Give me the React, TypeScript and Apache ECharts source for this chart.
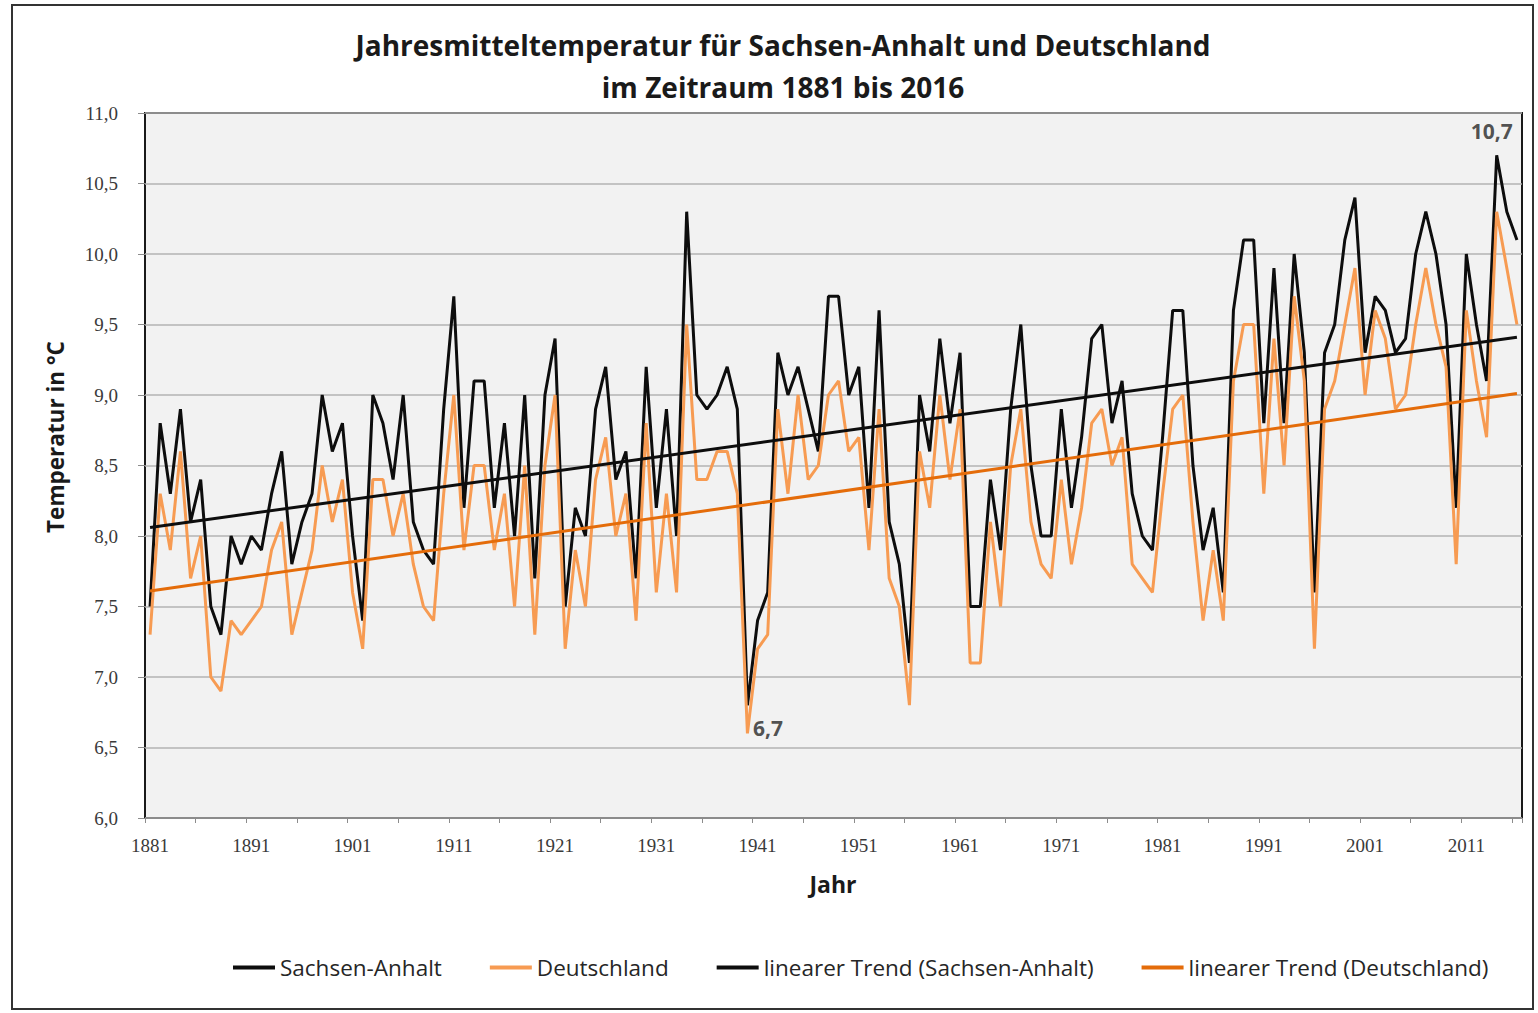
import React, { useEffect, useRef } from "react";
import * as echarts from "echarts";

const years = [
  "1881","1882","1883","1884","1885","1886","1887","1888","1889","1890",
  "1891","1892","1893","1894","1895","1896","1897","1898","1899","1900",
  "1901","1902","1903","1904","1905","1906","1907","1908","1909","1910",
  "1911","1912","1913","1914","1915","1916","1917","1918","1919","1920",
  "1921","1922","1923","1924","1925","1926","1927","1928","1929","1930",
  "1931","1932","1933","1934","1935","1936","1937","1938","1939","1940",
  "1941","1942","1943","1944","1945","1946","1947","1948","1949","1950",
  "1951","1952","1953","1954","1955","1956","1957","1958","1959","1960",
  "1961","1962","1963","1964","1965","1966","1967","1968","1969","1970",
  "1971","1972","1973","1974","1975","1976","1977","1978","1979","1980",
  "1981","1982","1983","1984","1985","1986","1987","1988","1989","1990",
  "1991","1992","1993","1994","1995","1996","1997","1998","1999","2000",
  "2001","2002","2003","2004","2005","2006","2007","2008","2009","2010",
  "2011","2012","2013","2014","2015","2016",
];

const sachsenAnhalt = [
  7.5, 8.8, 8.3, 8.9, 8.1, 8.4, 7.5, 7.3, 8.0, 7.8,
  8.0, 7.9, 8.3, 8.6, 7.8, 8.1, 8.3, 9.0, 8.6, 8.8,
  8.0, 7.4, 9.0, 8.8, 8.4, 9.0, 8.1, 7.9, 7.8, 8.9,
  9.7, 8.2, 9.1, 9.1, 8.2, 8.8, 8.0, 9.0, 7.7, 9.0,
  9.4, 7.5, 8.2, 8.0, 8.9, 9.2, 8.4, 8.6, 7.7, 9.2,
  8.2, 8.9, 8.0, 10.3, 9.0, 8.9, 9.0, 9.2, 8.9, 6.8,
  7.4, 7.6, 9.3, 9.0, 9.2, 8.9, 8.6, 9.7, 9.7, 9.0,
  9.2, 8.2, 9.6, 8.1, 7.8, 7.1, 9.0, 8.6, 9.4, 8.8,
  9.3, 7.5, 7.5, 8.4, 7.9, 8.9, 9.5, 8.5, 8.0, 8.0,
  8.9, 8.2, 8.7, 9.4, 9.5, 8.8, 9.1, 8.3, 8.0, 7.9,
  8.7, 9.6, 9.6, 8.5, 7.9, 8.2, 7.6, 9.6, 10.1, 10.1,
  8.8, 9.9, 8.8, 10.0, 9.3, 7.6, 9.3, 9.5, 10.1, 10.4,
  9.3, 9.7, 9.6, 9.3, 9.4, 10.0, 10.3, 10.0, 9.5, 8.2,
  10.0, 9.5, 9.1, 10.7, 10.3, 10.1,
];

const deutschland = [
  7.3, 8.3, 7.9, 8.6, 7.7, 8.0, 7.0, 6.9, 7.4, 7.3,
  7.4, 7.5, 7.9, 8.1, 7.3, 7.6, 7.9, 8.5, 8.1, 8.4,
  7.6, 7.2, 8.4, 8.4, 8.0, 8.3, 7.8, 7.5, 7.4, 8.3,
  9.0, 7.9, 8.5, 8.5, 7.9, 8.3, 7.5, 8.5, 7.3, 8.5,
  9.0, 7.2, 7.9, 7.5, 8.4, 8.7, 8.0, 8.3, 7.4, 8.8,
  7.6, 8.3, 7.6, 9.5, 8.4, 8.4, 8.6, 8.6, 8.3, 6.6,
  7.2, 7.3, 8.9, 8.3, 9.0, 8.4, 8.5, 9.0, 9.1, 8.6,
  8.7, 7.9, 8.9, 7.7, 7.5, 6.8, 8.6, 8.2, 9.0, 8.4,
  8.9, 7.1, 7.1, 8.1, 7.5, 8.5, 8.9, 8.1, 7.8, 7.7,
  8.4, 7.8, 8.2, 8.8, 8.9, 8.5, 8.7, 7.8, 7.7, 7.6,
  8.3, 8.9, 9.0, 8.1, 7.4, 7.9, 7.4, 9.1, 9.5, 9.5,
  8.3, 9.4, 8.5, 9.7, 9.1, 7.2, 8.9, 9.1, 9.5, 9.9,
  9.0, 9.6, 9.4, 8.9, 9.0, 9.5, 9.9, 9.5, 9.2, 7.8,
  9.6, 9.1, 8.7, 10.3, 9.9, 9.5,
];

// linear trend endpoints
const trendYears = ["1881", "2016"];
const trendSachsenAnhalt = [8.06, 9.41];
const trendDeutschland = [7.61, 9.01];

// annotated points
const annotationYears = ["1940", "2014"];
const annotationValues = [6.8, 10.7];
const annotationTexts = ["6,7", "10,7"];

const seriesNames = [
  "Sachsen-Anhalt",
  "Deutschland",
  "linearer Trend (Sachsen-Anhalt)",
  "linearer Trend (Deutschland)",
];
const seriesColors = ["#0d0d0d", "#f79b52", "#0d0d0d", "#e46c0a"];

const titleLines = [
  "Jahresmitteltemperatur für Sachsen-Anhalt und Deutschland",
  "im Zeitraum 1881 bis 2016",
];
const yAxisTitle = "Temperatur in °C";
const xAxisTitle = "Jahr";

export default function App() {
  const ref = useRef<HTMLDivElement>(null);

  useEffect(() => {
    document.body.style.margin = "0";
    const chart = echarts.init(ref.current!, null, { renderer: "svg" });
    const sans = "'Open Sans', 'DejaVu Sans', sans-serif";
    const serif = "'Liberation Serif', 'DejaVu Serif', serif";

    chart.setOption({
      animation: false,
      backgroundColor: "#ffffff",
      grid: {
        left: 145,
        top: 113,
        right: 16,
        bottom: 195,
        show: true,
        backgroundColor: "#f2f2f2",
        borderColor: "#1a1a1a",
        borderWidth: 2,
      },
      xAxis: {
        type: "category",
        data: years,
        boundaryGap: true,
        axisLine: { show: false },
        axisTick: {
          show: true,
          interval: 4,
          length: 5,
          lineStyle: { color: "#8c8c8c", width: 1 },
        },
        axisLabel: {
          interval: 9,
          margin: 18,
          color: "#3a3a3a",
          fontFamily: serif,
          fontSize: 19,
        },
        splitLine: { show: false },
      },
      yAxis: {
        type: "value",
        min: 6,
        max: 11,
        interval: 0.5,
        axisLine: { show: false },
        axisTick: {
          show: true,
          length: 7,
          lineStyle: { color: "#8c8c8c", width: 1 },
        },
        axisLabel: {
          margin: 27,
          color: "#3a3a3a",
          fontFamily: serif,
          fontSize: 19,
          formatter: (v: number) => v.toFixed(1).replace(".", ","),
        },
        splitLine: { show: true, lineStyle: { color: "#b3b3b3", width: 1.5 } },
      },
      legend: {
        left: 228,
        top: 951,
        itemGap: 48,
        itemWidth: 42,
        itemHeight: 4,
        icon: "rect",
        textStyle: { fontFamily: sans, fontSize: 22.5, color: "#262626" },
        data: seriesNames,
      },
      graphic: [
        {
          type: "rect",
          shape: { x: 12, y: 5, width: 1521, height: 1004 },
          style: { fill: "none", stroke: "#333", lineWidth: 2 },
          silent: true,
        },
        {
          type: "text",
          x: 783,
          y: 45,
          style: {
            text: titleLines[0],
            fontFamily: sans,
            fontWeight: "bold",
            fontSize: 28,
            fill: "#1a1a1a",
            align: "center",
            verticalAlign: "middle",
          },
        },
        {
          type: "text",
          x: 783,
          y: 87,
          style: {
            text: titleLines[1],
            fontFamily: sans,
            fontWeight: "bold",
            fontSize: 28,
            fill: "#1a1a1a",
            align: "center",
            verticalAlign: "middle",
          },
        },
        {
          type: "text",
          x: 55,
          y: 437,
          rotation: Math.PI / 2,
          style: {
            text: yAxisTitle,
            fontFamily: sans,
            fontWeight: "bold",
            fontSize: 22.5,
            fill: "#1a1a1a",
            align: "center",
            verticalAlign: "middle",
          },
        },
        {
          type: "text",
          x: 833,
          y: 884,
          style: {
            text: xAxisTitle,
            fontFamily: sans,
            fontWeight: "bold",
            fontSize: 23,
            fill: "#1a1a1a",
            align: "center",
            verticalAlign: "middle",
          },
        },
      ],
      series: [
        {
          name: seriesNames[0],
          type: "line",
          data: sachsenAnhalt,
          showSymbol: false,
          symbol: "none",
          lineStyle: { color: seriesColors[0], width: 3 },
          itemStyle: { color: seriesColors[0] },
          z: 2,
        },
        {
          name: seriesNames[1],
          type: "line",
          data: deutschland,
          showSymbol: false,
          symbol: "none",
          lineStyle: { color: seriesColors[1], width: 3 },
          itemStyle: { color: seriesColors[1] },
          z: 3,
        },
        {
          name: seriesNames[2],
          type: "line",
          data: trendYears.map((y, i) => [y, trendSachsenAnhalt[i]]),
          showSymbol: false,
          symbol: "none",
          lineStyle: { color: seriesColors[2], width: 3 },
          itemStyle: { color: seriesColors[2] },
          z: 4,
        },
        {
          name: seriesNames[3],
          type: "line",
          data: trendYears.map((y, i) => [y, trendDeutschland[i]]),
          showSymbol: false,
          symbol: "none",
          lineStyle: { color: seriesColors[3], width: 3 },
          itemStyle: { color: seriesColors[3] },
          z: 4,
        },
        {
          name: "annotations",
          type: "scatter",
          symbolSize: 1,
          itemStyle: { color: "rgba(0,0,0,0)" },
          z: 6,
          data: annotationYears.map((y, i) => ({
            value: [y, annotationValues[i]],
            label: {
              show: true,
              formatter: annotationTexts[i],
              position: i === 0 ? "right" : "top",
              distance: 5,
              offset: i === 0 ? [0, 23] : [-5, -8],
              fontFamily: sans,
              fontWeight: "bold",
              fontSize: 21,
              color: "#262626",
            },
          })),
        },
      ],
    });
    return () => chart.dispose();
  }, []);

  return <div ref={ref} style={{ width: 1538, height: 1013 }} />;
}
